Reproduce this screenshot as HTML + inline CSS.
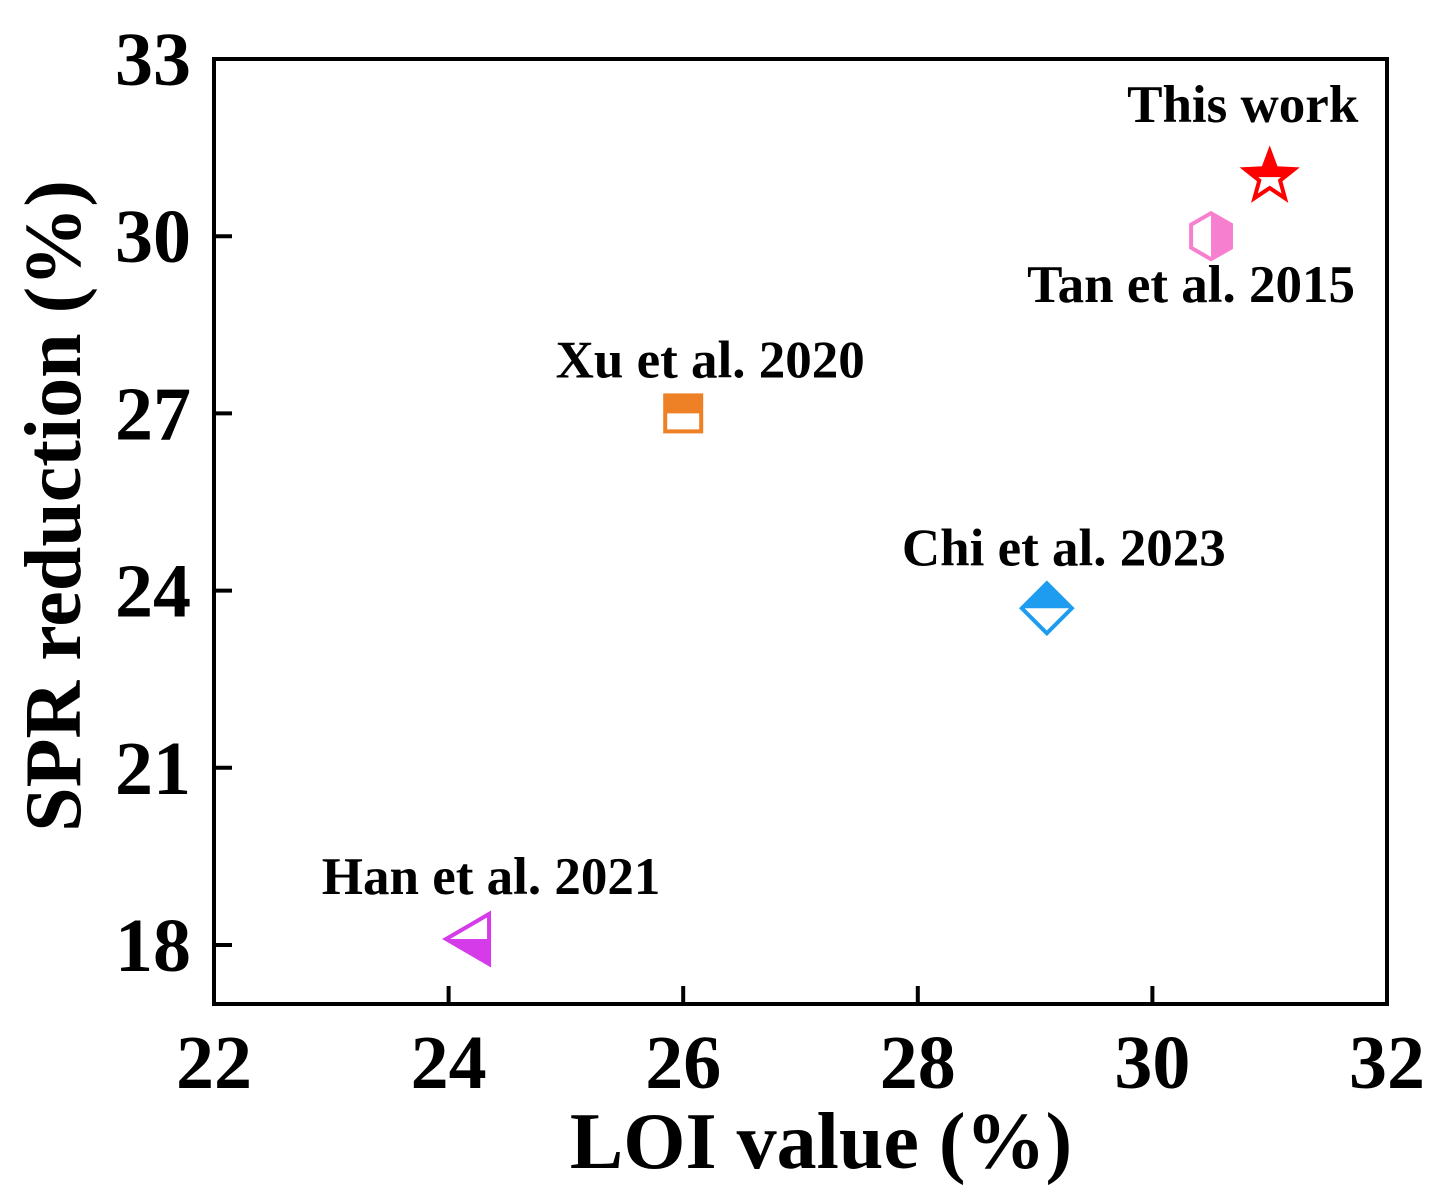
<!DOCTYPE html>
<html><head><meta charset="utf-8">
<style>
html,body{margin:0;padding:0;background:#fff;}
svg{display:block;font-family:"Liberation Serif",serif;font-weight:bold;}
</style></head>
<body>
<svg id="chart" width="1455" height="1198" viewBox="0 0 1455 1198" xmlns="http://www.w3.org/2000/svg"></svg>
<script>
const labels = ["This work","Tan et al. 2015","Xu et al. 2020","Chi et al. 2023","Han et al. 2021"];
const xVals = [31.0, 30.5, 26.0, 29.1, 24.2];
const yVals = [31.0, 30.0, 27.0, 23.7, 18.1];
const xTicks = [22,24,26,28,30,32];
const yTicks = [18,21,24,27,30,33];

const L=214,R=1387,T=59,B=1004;
const X0=22,X1=32,Y0=17,Y1=33;
function sx(v){return L+(v-X0)/(X1-X0)*(R-L);}
function sy(v){return B-(v-Y0)/(Y1-Y0)*(B-T);}
const NS="http://www.w3.org/2000/svg";
const svg=document.getElementById('chart');
function mk(tag,attrs,parent){const e=document.createElementNS(NS,tag);for(const k in attrs)e.setAttribute(k,attrs[k]);(parent||svg).appendChild(e);return e;}

xTicks.forEach(t=>{
  const x=sx(t);
  if(t!==X0&&t!==X1){const tk=mk('line',{x1:x,y1:B,x2:x,y2:B-18,stroke:'#000','stroke-width':4});
  
  }
  const tl=mk('text',{x:x,y:1088,'text-anchor':'middle','font-size':76});
  tl.textContent=t;
  
  
});
yTicks.forEach(t=>{
  const y=sy(t);
  if(t!==Y1){const tk=mk('line',{x1:L,y1:y,x2:L+18,y2:y,stroke:'#000','stroke-width':4});
  
  }
  const tl=mk('text',{x:191,y:y+26,'text-anchor':'end','font-size':76});
  tl.textContent=t;
  
  
});
const frame=mk('rect',{x:L,y:T,width:R-L,height:B-T,fill:'none',stroke:'#000','stroke-width':4});



const xt=mk('text',{x:821,y:1168,'text-anchor':'middle','font-size':80});
xt.textContent='LOI value (%)';


const yt=mk('text',{x:0,y:0,'text-anchor':'middle','font-size':80,transform:'translate(80,506) rotate(-90)'});
yt.textContent='SPR reduction (%)';



const colors=['#ff0000','#f77fcf','#ee8025','#1e9cf0','#d53be8'];
const labelOff=[[-27,-55],[-20,66],[27,-36],[17,-43],[19,-45]];
function starPts(cx,cy,r){let p=[];for(let i=0;i<10;i++){const a=-Math.PI/2+i*Math.PI/5;const rr=i%2?r*0.42:r;p.push((cx+rr*Math.cos(a)).toFixed(1)+','+(cy+rr*Math.sin(a)).toFixed(1));}return p.join(' ');}
labels.forEach((lab,i)=>{
  const cx=sx(xVals[i]),cy=sy(yVals[i]),c=colors[i];
  const g=mk('g',{});
  
  
  const id='clip'+i;
  const cp=mk('clipPath',{id:id},g);
  if(i===1){mk('rect',{x:cx,y:cy-40,width:40,height:80},cp);}
  else if(i===4){mk('rect',{x:cx-40,y:cy,width:80,height:40},cp);}
  else{mk('rect',{x:cx-40,y:cy-40,width:80,height:40},cp);}
  let shape,attrs;
  if(i===0){shape='polygon';attrs={points:starPts(cx,cy,26)};}
  else if(i===1){let p=[];for(let k=0;k<6;k++){const a=-Math.PI/2+k*Math.PI/3;p.push((cx+23*Math.cos(a)).toFixed(1)+','+(cy+23*Math.sin(a)).toFixed(1));}shape='polygon';attrs={points:p.join(' ')};}
  else if(i===2){shape='rect';attrs={x:cx-18,y:cy-18,width:36,height:36};}
  else if(i===3){shape='polygon';attrs={points:`${cx},${cy-25} ${cx+25},${cy} ${cx},${cy+25} ${cx-25},${cy}`};}
  else {shape='polygon';attrs={points:`${cx+17},${cy-25} ${cx+17},${cy+25} ${cx-26},${cy}`};}
  mk(shape,Object.assign({fill:c,'clip-path':`url(#${id})`},attrs),g);
  mk(shape,Object.assign({fill:'none',stroke:c,'stroke-width':4,'stroke-linejoin':'miter'},attrs),g);
  const o=labelOff[i];
  const t=mk('text',{x:cx+o[0],y:cy+o[1],'text-anchor':'middle','font-size':53});
  t.textContent=lab;
  
  
});
</script>
</body></html>
